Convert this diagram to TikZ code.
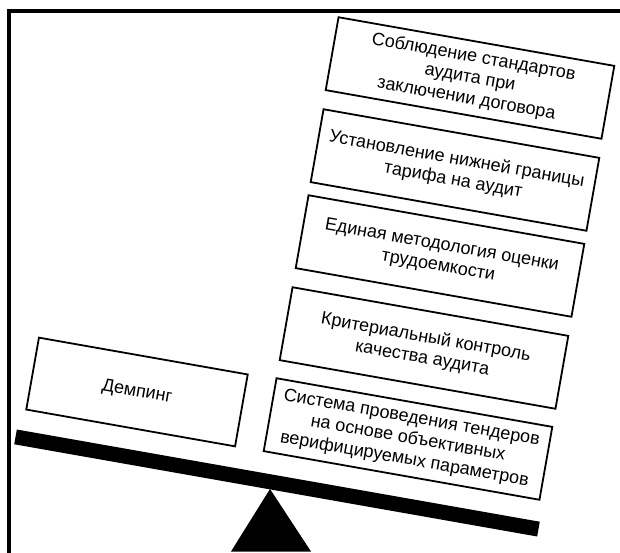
\documentclass[tikz,border=0pt]{standalone}
\usepackage{fontspec}
\setmainfont{Liberation Sans}
\begin{document}
\begin{tikzpicture}[x=1pt,y=1pt,
  box/.style={draw,line width=1.8pt,rotate=-10,align=center,inner sep=1pt,
    minimum width=280pt,minimum height=74pt,font=\fontsize{18}{21}\selectfont},
  beambar/.style={fill=black,rotate=-10,inner sep=0pt,minimum width=531pt,minimum height=15pt}]
\useasboundingbox (0,0) rectangle (620,552);
\draw[line width=4pt] (9,-20) -- (9,541) -- (640,541);
\node[beambar] (beam) at (277,69) {};
\fill (231,0.5) -- (270,63) -- (311,0.5) -- cycle;
\node[box,minimum width=212pt,minimum height=73pt] (demp) at (137,160) {Демпинг};
\node[box] (tender) at (408,113) {Система проведения тендеров\\на основе объективных\\верифицируемых параметров};
\node[box] (crit) at (424,204) {Критериальный контроль\\качества аудита};
\node[box] (method) at (440,296) {Единая методология оценки\\трудоемкости};
\node[box] (tariff) at (455,382) {Установление нижней границы\\тарифа на аудит};
\node[box] (stand) at (470,474) {Соблюдение стандартов\\аудита при\\заключении договора};
\end{tikzpicture}
\end{document}
